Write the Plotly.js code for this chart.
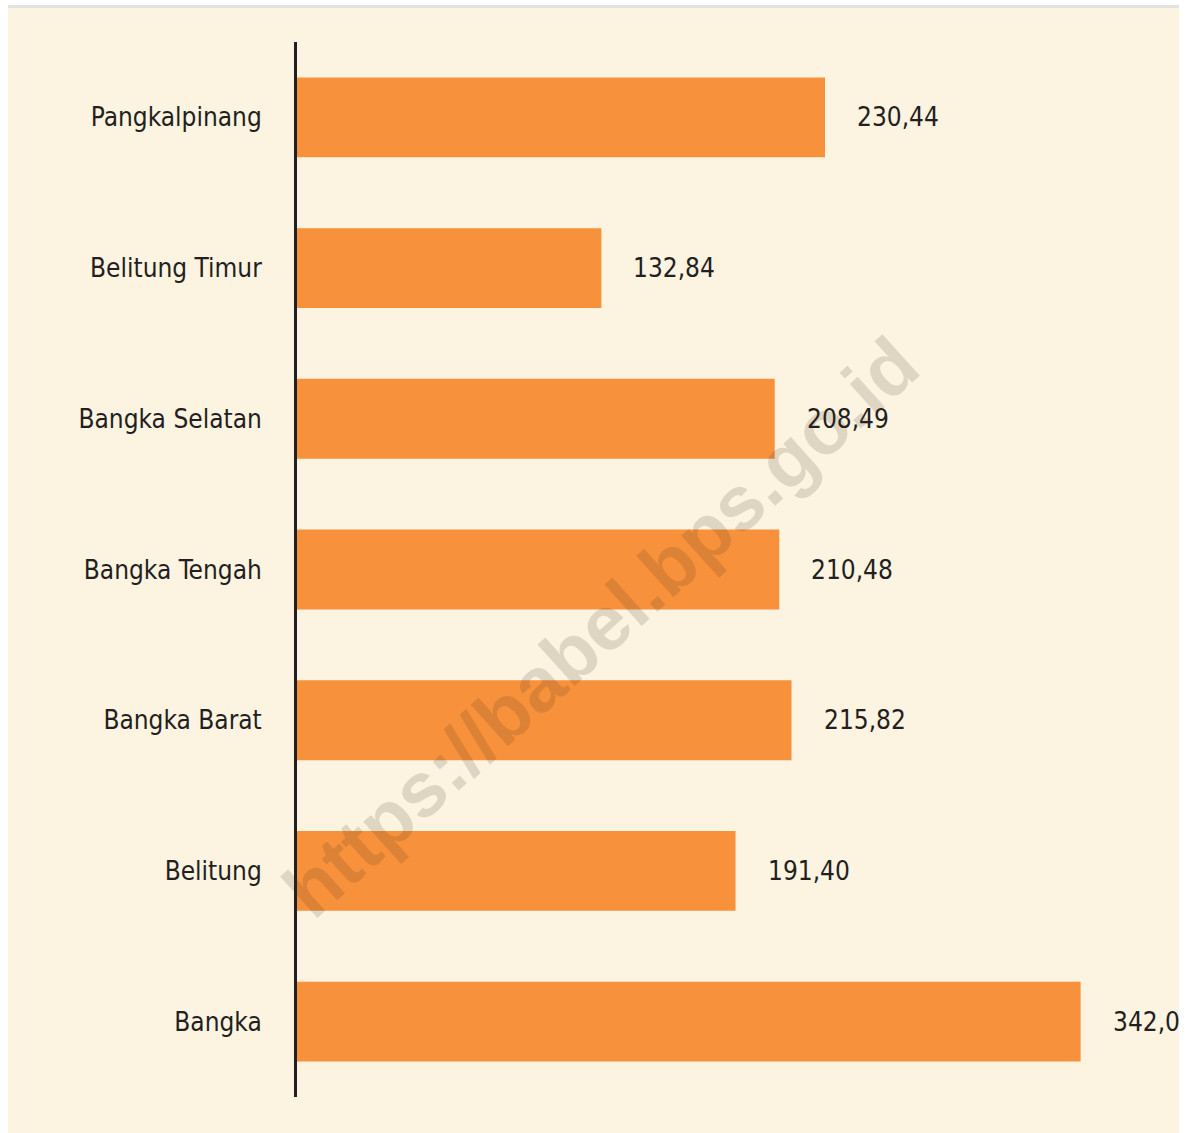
<!DOCTYPE html>
<html>
<head>
<meta charset="utf-8">
<script src="https://cdn.plot.ly/plotly-3.0.1.min.js"></script>
<style>html,body{margin:0;padding:0;background:#fff;}#chart{width:1186px;height:1133px;}</style>
</head>
<body>
<div id="chart"></div>
<script>
// Data (bottom to top as drawn by Plotly)
const regions = ['Bangka', 'Belitung', 'Bangka Barat', 'Bangka Tengah', 'Bangka Selatan', 'Belitung Timur', 'Pangkalpinang'];
const values = [342.0, 191.40, 215.82, 210.48, 208.49, 132.84, 230.44];
const valueLabels = ['342,0', '191,40', '215,82', '210,48', '208,49', '132,84', '230,44'];
const watermark = 'https://babel.bps.go.id';

const FONT = 'DejaVu Sans Condensed, Liberation Sans, sans-serif';
const TXT = '#231f20';

const trace = {
  type: 'bar',
  orientation: 'h',
  y: regions,
  x: values,
  width: 0.53,
  marker: {color: '#f8913c', line: {width: 0}},
  hoverinfo: 'skip'
};

const annotations = values.map((v, i) => ({
  x: v, y: regions[i], xref: 'x', yref: 'y',
  text: valueLabels[i], showarrow: false,
  xanchor: 'left', xshift: 30, yshift: 0,
  font: {family: FONT, size: 26, color: TXT}
}));

annotations.push({
  xref: 'paper', yref: 'paper', x: 0.344, y: 0.4455,
  text: '<b>' + watermark + '</b>', showarrow: false, textangle: -42,
  xanchor: 'center', yanchor: 'middle',
  font: {family: 'Liberation Sans, Arial, sans-serif', size: 77, color: 'rgba(60,45,30,0.15)'}
});

const layout = {
  width: 1186, height: 1133,
  margin: {l: 297, r: 8, t: 42, b: 36, pad: 0},
  paper_bgcolor: '#ffffff',
  plot_bgcolor: 'rgba(0,0,0,0)',
  showlegend: false,
  bargap: 0.47,
  xaxis: {
    range: [0, 384.5], showgrid: false, zeroline: false, showline: false,
    showticklabels: false, ticks: '', fixedrange: true
  },
  yaxis: {
    type: 'category', range: [-0.5, 6.5],
    showgrid: false, zeroline: false,
    showline: true, linecolor: '#231f20', linewidth: 3,
    ticks: '', ticklabelstandoff: 27,
    tickfont: {family: FONT, size: 26, color: TXT},
    fixedrange: true
  },
  shapes: [
    {type: 'rect', xref: 'paper', yref: 'paper', layer: 'below',
     x0: (8 - 297) / 881, x1: (1179 - 297) / 881,
     y0: (1097 - 1133) / 1055, y1: (1097 - 8) / 1055,
     fillcolor: '#fcf3e1', line: {width: 0}},
    {type: 'line', xref: 'paper', yref: 'paper', layer: 'below',
     x0: (8 - 297) / 881, x1: (1179 - 297) / 881,
     y0: (1097 - 6.5) / 1055, y1: (1097 - 6.5) / 1055,
     line: {color: '#e2e2e2', width: 3}}
  ],
  annotations: annotations
};

Plotly.newPlot('chart', [trace], layout, {displayModeBar: false, staticPlot: true});
</script>
</body>
</html>
